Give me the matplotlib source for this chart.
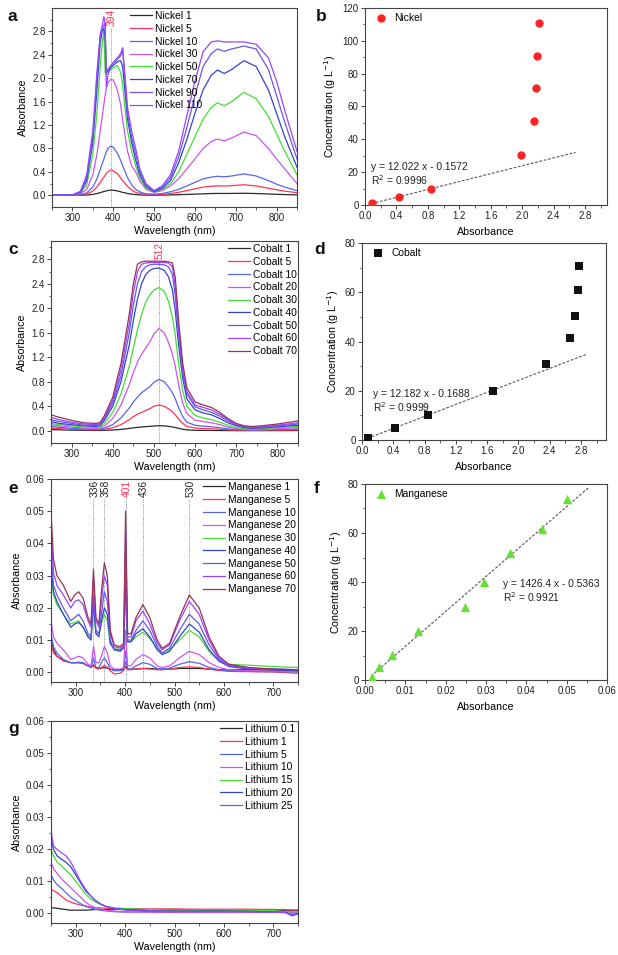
import matplotlib
matplotlib.use("Agg")
import matplotlib.pyplot as plt

plt.rcParams['font.family'] = ['Liberation Sans', 'DejaVu Sans']

# ---------------- data: nickel spectra (panel a) ----------------
ni_nm = [250, 300, 320, 335, 350, 360, 368, 373, 377, 380, 383, 387, 394, 400, 410,
         418, 423, 427, 435, 445, 455, 465, 480, 500, 520, 540, 560, 580, 600, 620,
         640, 655, 672, 690, 720, 750, 780, 800, 820, 850]
ni_1 = [0, 0, 0, 0.005, 0.015, 0.03, 0.045, 0.055, 0.065, 0.07, 0.075, 0.082, 0.09, 0.087, 0.075,
        0.06, 0.05, 0.045, 0.03, 0.02, 0.012, 0.007, 0.003, 0.002, 0.003, 0.006, 0.01, 0.015, 0.02, 0.025,
        0.03, 0.032, 0.031, 0.032, 0.035, 0.03, 0.022, 0.017, 0.012, 0.007]
ni_5 = [0, 0, 0.005, 0.02, 0.07, 0.14, 0.22, 0.27, 0.31, 0.34, 0.37, 0.4, 0.43, 0.42, 0.37,
        0.3, 0.25, 0.22, 0.15, 0.09, 0.05, 0.03, 0.012, 0.01, 0.015, 0.03, 0.05, 0.08, 0.11, 0.14,
        0.155, 0.162, 0.158, 0.165, 0.18, 0.16, 0.12, 0.095, 0.07, 0.045]
ni_10 = [0, 0, 0.01, 0.04, 0.14, 0.28, 0.44, 0.54, 0.62, 0.68, 0.74, 0.8, 0.84, 0.82, 0.72,
         0.6, 0.5, 0.44, 0.3, 0.18, 0.1, 0.06, 0.025, 0.02, 0.03, 0.06, 0.1, 0.16, 0.22, 0.28,
         0.31, 0.325, 0.315, 0.33, 0.365, 0.33, 0.25, 0.19, 0.14, 0.08]
ni_30 = [0, 0.005, 0.03, 0.1, 0.35, 0.7, 1.1, 1.35, 1.55, 1.7, 1.82, 1.92, 1.98, 1.97, 1.8,
         1.55, 1.3, 1.1, 0.75, 0.5, 0.4, 0.25, 0.1, 0.05, 0.08, 0.16, 0.28, 0.45, 0.62, 0.8,
         0.92, 0.96, 0.93, 0.98, 1.08, 1.02, 0.8, 0.62, 0.45, 0.2]
ni_50 = [0, 0.005, 0.04, 0.18, 0.7, 1.4, 2.2, 2.6, 2.8, 2.1, 2.05, 2.1, 2.15, 2.18, 2.22,
         2.1, 1.9, 1.6, 1.1, 0.75, 0.5, 0.3, 0.12, 0.06, 0.1, 0.2, 0.4, 0.7, 1.0, 1.3,
         1.5, 1.58, 1.53, 1.6, 1.76, 1.65, 1.35, 1.05, 0.75, 0.35]
ni_70 = [0, 0.005, 0.05, 0.25, 0.9, 1.8, 2.6, 2.8, 2.85, 2.7, 2.1, 2.12, 2.18, 2.22, 2.28,
         2.3, 2.2, 1.9, 1.3, 0.9, 0.6, 0.35, 0.15, 0.06, 0.12, 0.25, 0.55, 0.95, 1.4, 1.8,
         2.05, 2.14, 2.08, 2.15, 2.3, 2.2, 1.8, 1.4, 1.0, 0.48]
ni_90 = [0, 0.005, 0.06, 0.3, 1.0, 2.0, 2.7, 2.85, 2.9, 2.95, 2.1, 2.15, 2.22, 2.26, 2.32,
         2.38, 2.5, 2.1, 1.4, 1.0, 0.7, 0.4, 0.18, 0.07, 0.14, 0.3, 0.65, 1.15, 1.7, 2.2,
         2.42, 2.5, 2.46, 2.5, 2.55, 2.5, 2.15, 1.7, 1.25, 0.62]
ni_110 = [0, 0.005, 0.07, 0.35, 1.1, 2.1, 2.75, 2.9, 3.05, 2.95, 1.85, 2.05, 2.2, 2.27, 2.35,
          2.42, 2.52, 2.2, 1.5, 1.1, 0.8, 0.45, 0.2, 0.08, 0.16, 0.35, 0.75, 1.35, 1.95, 2.45,
          2.62, 2.64, 2.62, 2.62, 2.62, 2.58, 2.35, 1.95, 1.45, 0.75]
ni_labels = ['Nickel 1', 'Nickel 5', 'Nickel 10', 'Nickel 30', 'Nickel 50',
             'Nickel 70', 'Nickel 90', 'Nickel 110']

# ---------------- data: nickel calibration (panel b) ----------------
ni_abs = [0.09, 0.43, 0.84, 1.98, 2.15, 2.18, 2.19, 2.21]
ni_conc = [1, 5, 10, 30.5, 51, 71, 91, 111]
ni_fit_x = [0.08, 2.68]

# ---------------- data: cobalt spectra (panel c) ----------------
co_nm = [250, 270, 300, 330, 360, 370, 380, 400, 420, 440, 450, 460, 470, 480, 490,
         500, 512, 525, 535, 545, 552, 560, 570, 580, 600, 620, 640, 660, 680, 700,
         720, 740, 760, 800, 850]
co_1 = [.02, .015, .01, .008, .005, .005, .007, .012, .022, .038, .047, .055, .062, .067, .072,
        .078, .083, .08, .072, .062, .052, .04, .025, .015, .008, .006, .005, .004, .003, .002,
        .002, .002, .002, .003, .004]
co_5 = [.045, .035, .025, .02, .015, .017, .025, .05, .1, .18, .23, .27, .3, .33, .36,
        .4, .42, .4, .36, .31, .26, .19, .12, .07, .045, .038, .033, .025, .016, .01,
        .008, .006, .008, .01, .015]
co_10 = [.07, .055, .04, .03, .025, .03, .045, .1, .21, .37, .47, .55, .62, .67, .72,
         .79, .84, .8, .72, .62, .52, .38, .23, .14, .09, .075, .065, .05, .03, .02,
         .015, .012, .015, .02, .03]
co_20 = [.1, .08, .06, .045, .04, .05, .08, .2, .42, .75, .95, 1.12, 1.25, 1.35, 1.45,
         1.58, 1.67, 1.6, 1.45, 1.25, 1.05, .75, .45, .28, .17, .15, .13, .1, .06, .035,
         .025, .02, .025, .035, .05]
co_30 = [.12, .1, .08, .06, .055, .07, .12, .3, .6, 1.05, 1.35, 1.65, 1.9, 2.1, 2.22,
         2.3, 2.34, 2.28, 2.12, 1.85, 1.55, 1.1, .65, .4, .25, .21, .18, .14, .09, .05,
         .035, .03, .035, .05, .07]
co_40 = [.15, .12, .1, .08, .07, .09, .17, .4, .8, 1.4, 1.8, 2.15, 2.4, 2.55, 2.62,
         2.65, 2.66, 2.62, 2.52, 2.3, 1.95, 1.4, .85, .52, .34, .29, .26, .2, .13, .08,
         .05, .04, .045, .065, .09]
co_50 = [.18, .15, .12, .09, .085, .1, .2, .45, .9, 1.6, 2.05, 2.4, 2.6, 2.68, 2.71,
         2.72, 2.72, 2.71, 2.68, 2.55, 2.2, 1.55, .95, .6, .39, .34, .3, .24, .16, .09,
         .06, .05, .055, .08, .11]
co_60 = [.22, .18, .14, .11, .1, .12, .22, .5, 1.0, 1.75, 2.25, 2.6, 2.72, 2.74, 2.75,
         2.75, 2.75, 2.75, 2.74, 2.68, 2.35, 1.65, 1.0, .64, .42, .38, .34, .27, .18, .1,
         .07, .06, .065, .09, .13]
co_70 = [.26, .22, .17, .13, .12, .14, .25, .55, 1.1, 1.9, 2.4, 2.72, 2.76, 2.77, 2.77,
         2.77, 2.77, 2.77, 2.76, 2.74, 2.5, 1.8, 1.1, .7, .47, .42, .38, .3, .2, .12,
         .08, .07, .08, .11, .16]
co_labels = ['Cobalt 1', 'Cobalt 5', 'Cobalt 10', 'Cobalt 20', 'Cobalt 30',
             'Cobalt 40', 'Cobalt 50', 'Cobalt 60', 'Cobalt 70']

# ---------------- data: cobalt calibration (panel d) ----------------
co_abs = [0.08, 0.42, 0.85, 1.67, 2.35, 2.66, 2.72, 2.76, 2.77]
co_conc = [1, 5, 10, 20, 31, 41.5, 50.5, 61, 70.5]
co_fit_x = [0.07, 2.88]

# ---------------- data: manganese spectra (panel e) ----------------
mn_nm = [250, 255, 262, 275, 290, 298, 306, 315, 325, 331, 336, 341, 347, 352, 358,
         364, 370, 378, 390, 397, 401, 405, 412, 422, 436, 450, 465, 475, 490, 510,
         530, 550, 570, 590, 610, 650, 700, 750]
mn_1 = [.010, .007, .005, .0038, .003, .003, .003, .0028, .002, .0018, .002, .0015, .0013, .0013, .0015,
        .0013, .001, .0008, .0008, .0009, .0017, .001, .001, .001, .0012, .0012, .001, .001, .001, .0012,
        .0012, .0012, .001, .0008, .0008, .0008, .0007, .0005]
mn_5 = [.009, .006, .005, .0035, .003, .003, .003, .0028, .002, .0015, .0025, .0012, .001, .0015, .0022,
        .0015, .0005, -.0005, -.0003, .0005, .0033, .0008, .0008, .001, .0012, .001, .0008, .0008, .001, .0015,
        .0017, .0015, .001, .0006, .0003, .0002, .0001, -.0003]
mn_10 = [.012, .008, .006, .004, .003, .003, .0032, .003, .002, .0015, .0045, .0015, .0015, .003, .0045,
         .003, .001, .0005, .0005, .0008, .0066, .001, .001, .002, .003, .0025, .0012, .001, .0013, .0025,
         .0033, .0028, .0015, .0008, .0005, .0003, .0002, .0001]
mn_20 = [.016, .011, .009, .007, .004, .0045, .005, .0045, .0025, .002, .008, .003, .003, .005, .008,
         .006, .002, .001, .001, .0015, .013, .002, .002, .004, .0055, .0045, .002, .0015, .002, .0045,
         .0065, .0055, .003, .0015, .0008, .0005, .0004, .0003]
mn_30 = [.030, .024, .021, .018, .015, .0155, .016, .014, .011, .011, .020, .012, .012, .015, .018,
         .016, .009, .0075, .007, .008, .024, .0095, .0095, .011, .0125, .0105, .0075, .006, .007, .010,
         .013, .011, .0065, .0035, .0025, .0022, .0018, .0015]
mn_40 = [.034, .025, .022, .018, .014, .015, .0155, .014, .011, .010, .022, .012, .011, .016, .020,
         .018, .009, .007, .0065, .0075, .030, .0095, .0095, .012, .0135, .011, .007, .0055, .0065, .011,
         .015, .0125, .007, .0035, .0018, .001, .0008, .0005]
mn_50 = [.038, .027, .024, .020, .016, .017, .018, .016, .012, .011, .024, .013, .012, .018, .025,
         .022, .010, .007, .007, .008, .036, .010, .010, .013, .016, .013, .008, .006, .0075, .013,
         .018, .015, .0085, .004, .002, .0012, .001, .0008]
mn_60 = [.045, .031, .027, .024, .020, .022, .0225, .021, .016, .014, .029, .016, .014, .022, .030,
         .027, .012, .008, .0075, .0085, .044, .011, .011, .016, .019, .015, .009, .007, .0085, .016,
         .022, .018, .010, .0045, .0022, .0013, .001, .0008]
mn_70 = [.050, .035, .030, .027, .022, .024, .025, .023, .017, .015, .032, .017, .015, .025, .034,
         .030, .013, .0085, .008, .009, .050, .012, .012, .017, .021, .017, .010, .0075, .009, .017,
         .024, .020, .011, .005, .0025, .0015, .001, .0008]
mn_labels = ['Manganese 1', 'Manganese 5', 'Manganese 10', 'Manganese 20', 'Manganese 30',
             'Manganese 40', 'Manganese 50', 'Manganese 60', 'Manganese 70']
mn_peaks = [336, 358, 401, 436, 530]

# ---------------- data: manganese calibration (panel f) ----------------
mn_abs = [0.0017, 0.0035, 0.0066, 0.0132, 0.0247, 0.0294, 0.036, 0.044, 0.0502]
mn_conc = [1.2, 5.2, 10.2, 20, 30, 40, 52, 61.5, 74]
mn_fit_x = [0.0015, 0.0555]

# ---------------- data: lithium spectra (panel g) ----------------
li_nm = [250, 255, 262, 270, 280, 290, 300, 310, 320, 330, 340, 350, 360, 380, 400,
         450, 500, 550, 600, 650, 700, 725, 738, 750]
li_01 = [.0018, .0017, .0016, .0014, .0012, .001, .001, .001, .001, .0011, .0012, .0012, .0012, .0013, .0013,
         .0012, .0011, .001, .001, .001, .0009, .0008, .0008, .0008]
li_1 = [.0075, .007, .0065, .0055, .0042, .0035, .003, .0026, .0023, .002, .0018, .0017, .0016, .0015, .0015,
        .0014, .0014, .0013, .0013, .0013, .0012, .0012, .0011, .0011]
li_5 = [.012, .0105, .009, .008, .0065, .005, .004, .003, .0022, .0017, .0013, .001, .0008, .0005, .0004,
        .0004, .0004, .0004, .0004, .0004, .0004, .0003, .0003, .0003]
li_10 = [.016, .014, .0125, .011, .0095, .008, .0065, .005, .0035, .0025, .0018, .0014, .001, .0007, .0005,
         .0004, .0003, .0003, .0003, .0003, .0003, .0003, .0002, .0002]
li_15 = [.020, .018, .016, .015, .0135, .012, .010, .008, .006, .0045, .0035, .0028, .0022, .0017, .0015,
         .0012, .001, .001, .001, .001, .0009, .0005, -.0002, .0002]
li_20 = [.024, .020, .018, .017, .016, .0145, .012, .0095, .007, .0055, .004, .003, .0022, .0015, .0012,
         .0008, .0007, .0007, .0007, .0006, .0005, .0003, -.0005, 0]
li_25 = [.026, .021, .020, .019, .018, .016, .013, .010, .0075, .0055, .004, .003, .0022, .0015, .001,
         .0006, .0005, .0005, .0005, .0005, .0004, .0002, -.0008, -.0002]
li_labels = ['Lithium 0.1', 'Lithium 1', 'Lithium 5', 'Lithium 10', 'Lithium 15',
             'Lithium 20', 'Lithium 25']

# ---------------- styles ----------------
BLACK = '#2a2a2a'
RED = '#ff3355'
BLUE = '#5566ee'
MAGENTA = '#cc55ee'
GREEN = '#44dd33'
DBLUE = '#3344cc'
BVIOLET = '#6a55ee'
VIOLET = '#9944ff'
MAROON = '#993355'
SPINE = '#444444'
TICK_FS = 7.0
LABEL_FS = 7.7
LEG_FS = 7.4
W, H = 618, 955

fig = plt.figure(figsize=(W / 100, H / 100), dpi=100)


def make_axes(left, top, right, bottom):
    ax = fig.add_axes([left / W, 1 - bottom / H, (right - left) / W, (bottom - top) / H])
    for s in ax.spines.values():
        s.set_color(SPINE)
        s.set_linewidth(0.8)
    ax.tick_params(which='both', direction='out', colors=SPINE, labelcolor='#222222',
                   labelsize=TICK_FS, pad=1.5, top=False, right=False)
    ax.tick_params(which='major', length=3, width=0.7)
    ax.tick_params(which='minor', length=1.8, width=0.6)
    return ax


def spectra_legend(ax, x0):
    ax.legend(loc='upper left', bbox_to_anchor=(x0, 0.985), frameon=False, fontsize=LEG_FS,
              handlelength=2.15, handletextpad=0.3, labelspacing=0.27, borderpad=0,
              borderaxespad=0)


def peak_line(ax, x, label, color):
    ax.axvline(x, ymax=0.9, color='#7f8fb0', lw=0.7, ls=(0, (1, 1.2)), zorder=0)
    ax.text(x + 2, 0.995, label, transform=ax.get_xaxis_transform(), rotation=90,
            ha='center', va='top', fontsize=LEG_FS, color=color)


def calib_legend(ax, handle, label):
    ax.legend([handle], [label], loc='upper left', bbox_to_anchor=(0.035, 0.985),
              frameon=False, fontsize=LEG_FS, handletextpad=0.8, borderpad=0.2,
              borderaxespad=0, handlelength=1.0)


def fit_text(ax, x, y1, y2, eq, r2):
    ax.text(x, y1, eq, fontsize=LEG_FS, color='#222222', va='center')
    ax.text(x, y2, r2, fontsize=LEG_FS, color='#222222', va='center')


def spectra_axis(ax, lo, hi, xmaj, xmin_, ylo, yhi, ymaj, ylab, ymin_):
    ax.set_xlim(lo, hi)
    ax.set_ylim(ylo, yhi)
    ax.set_xticks(xmaj)
    ax.set_xticks(xmin_, minor=True)
    ax.set_yticks(ymaj)
    ax.set_yticklabels(ylab)
    ax.set_yticks(ymin_, minor=True)
    ax.set_xlabel('Wavelength (nm)', fontsize=LABEL_FS, labelpad=2)
    ax.set_ylabel('Absorbance', fontsize=LABEL_FS, labelpad=3)


abs_ticks = [0, 0.4, 0.8, 1.2, 1.6, 2.0, 2.4, 2.8]
abs_labels = ['0.0', '0.4', '0.8', '1.2', '1.6', '2.0', '2.4', '2.8']
abs_minor = [0.2, 0.6, 1.0, 1.4, 1.8, 2.2, 2.6, 3.0]
small_ticks = [0, 0.01, 0.02, 0.03, 0.04, 0.05, 0.06]
small_labels = ['0.00', '0.01', '0.02', '0.03', '0.04', '0.05', '0.06']
small_minor = [0.005, 0.015, 0.025, 0.035, 0.045, 0.055]

# ---------------- panel a ----------------
ax = make_axes(52, 8, 297, 207)
ni_series = [ni_1, ni_5, ni_10, ni_30, ni_50, ni_70, ni_90, ni_110]
ni_colors = [BLACK, RED, BLUE, MAGENTA, GREEN, DBLUE, BVIOLET, VIOLET]
for vals, c, lab in zip(ni_series, ni_colors, ni_labels):
    ax.plot(ni_nm, vals, color=c, lw=0.9, label=lab)
peak_line(ax, 394, '394', RED)
spectra_axis(ax, 250, 850, range(300, 801, 100), range(250, 851, 100),
             -0.2, 3.2, abs_ticks, abs_labels, abs_minor)
spectra_legend(ax, 0.318)

# ---------------- panel b ----------------
ax = make_axes(365, 8, 607, 205)
ax.plot(ni_fit_x, [12.022 * v - 0.1572 for v in ni_fit_x], color='#555566', lw=0.8,
        ls=(0, (2.5, 1.5)), zorder=1)
h = ax.scatter(ni_abs, ni_conc, s=36, color='#ff2222', zorder=3, linewidths=0)
fit_text(ax, 0.076, 23.3, 15.2, 'y = 12.022 x - 0.1572', 'R$^2$ = 0.9996')
ax.set_xlim(0, 3.08)
ax.set_ylim(0, 120)
ax.set_xticks(abs_ticks)
ax.set_xticklabels(abs_labels)
ax.set_xticks(abs_minor, minor=True)
ax.set_yticks(range(0, 121, 20))
ax.set_yticks(range(10, 120, 20), minor=True)
ax.set_xlabel('Absorbance', fontsize=LABEL_FS, labelpad=4)
ax.set_ylabel('Concentration (g L$^{-1}$)', fontsize=LABEL_FS, labelpad=3)
calib_legend(ax, h, 'Nickel')

# ---------------- panel c ----------------
ax = make_axes(51, 241, 298, 443)
co_series = [co_1, co_5, co_10, co_20, co_30, co_40, co_50, co_60, co_70]
co_colors = [BLACK, RED, BLUE, MAGENTA, GREEN, DBLUE, BVIOLET, VIOLET, MAROON]
for vals, c, lab in zip(co_series, co_colors, co_labels):
    ax.plot(co_nm, vals, color=c, lw=0.9, label=lab)
peak_line(ax, 512, '512', RED)
spectra_axis(ax, 250, 850, range(300, 801, 100), range(250, 851, 100),
             -0.2, 3.1, abs_ticks, abs_labels, abs_minor)
spectra_legend(ax, 0.717)

# ---------------- panel d ----------------
ax = make_axes(362, 243, 606, 440)
ax.plot(co_fit_x, [12.182 * v - 0.1688 for v in co_fit_x], color='#555566', lw=0.8,
        ls=(0, (2.5, 1.5)), zorder=1)
h = ax.scatter(co_abs, co_conc, s=26, marker='s', color='#111111', zorder=3, linewidths=0)
fit_text(ax, 0.145, 18.7, 13.3, 'y = 12.182 x - 0.1688', 'R$^2$ = 0.9999')
ax.set_xlim(0, 3.12)
ax.set_ylim(0, 80)
ax.set_xticks(abs_ticks)
ax.set_xticklabels(abs_labels)
ax.set_xticks(abs_minor, minor=True)
ax.set_yticks(range(0, 81, 20))
ax.set_yticks(range(10, 80, 20), minor=True)
ax.set_xlabel('Absorbance', fontsize=LABEL_FS, labelpad=4)
ax.set_ylabel('Concentration (g L$^{-1}$)', fontsize=LABEL_FS, labelpad=3)
calib_legend(ax, h, 'Cobalt')

# ---------------- panel e ----------------
ax = make_axes(51, 479, 298, 682)
mn_series = [mn_1, mn_5, mn_10, mn_20, mn_30, mn_40, mn_50, mn_60, mn_70]
for vals, c, lab in zip(mn_series, co_colors, mn_labels):
    ax.plot(mn_nm, vals, color=c, lw=0.9, label=lab)
for p in mn_peaks:
    peak_line(ax, p, str(p), RED if p == 401 else '#222222')
spectra_axis(ax, 250, 750, range(300, 701, 100), range(250, 751, 100),
             -0.003, 0.06, small_ticks, small_labels, small_minor)
spectra_legend(ax, 0.615)

# ---------------- panel f ----------------
ax = make_axes(365, 484, 607, 680)
ax.plot(mn_fit_x, [1426.4 * v - 0.5363 for v in mn_fit_x], color='#555566', lw=0.8,
        ls=(0, (2.5, 1.5)), zorder=1)
h = ax.scatter(mn_abs, mn_conc, s=44, marker='^', color='#66e033', zorder=3, linewidths=0)
fit_text(ax, 0.0342, 39.0, 33.8, 'y = 1426.4 x - 0.5363', 'R$^2$ = 0.9921')
ax.set_xlim(0, 0.06)
ax.set_ylim(0, 80)
ax.set_xticks(small_ticks)
ax.set_xticklabels(small_labels)
ax.set_xticks(small_minor, minor=True)
ax.set_yticks(range(0, 81, 20))
ax.set_yticks(range(10, 80, 20), minor=True)
ax.set_xlabel('Absorbance', fontsize=LABEL_FS, labelpad=4)
ax.set_ylabel('Concentration (g L$^{-1}$)', fontsize=LABEL_FS, labelpad=3)
calib_legend(ax, h, 'Manganese')

# ---------------- panel g ----------------
ax = make_axes(51, 721, 298, 923)
li_series = [li_01, li_1, li_5, li_10, li_15, li_20, li_25]
li_colors = [BLACK, RED, BLUE, MAGENTA, GREEN, DBLUE, VIOLET]
for vals, c, lab in zip(li_series, li_colors, li_labels):
    ax.plot(li_nm, vals, color=c, lw=0.9, label=lab)
spectra_axis(ax, 250, 750, range(300, 701, 100), range(250, 751, 100),
             -0.003, 0.06, small_ticks, small_labels, small_minor)
spectra_legend(ax, 0.684)

# ---------------- panel letters ----------------
for letter, x, y in [('a', 8, 21), ('b', 316, 21), ('c', 8, 254), ('d', 314, 254),
                     ('e', 8, 493), ('f', 314, 493), ('g', 8, 733)]:
    fig.text(x / W, 1 - y / H, letter, fontsize=12.5, fontweight='bold', color='#111111')

fig.savefig('out.png', dpi=100)
